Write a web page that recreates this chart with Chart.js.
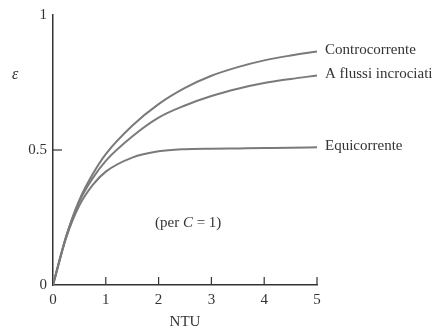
<!DOCTYPE html>
<html lang="it">
<head>
    <meta charset="UTF-8">
    <title>Efficienza - NTU</title>
    <script src="https://cdn.jsdelivr.net/npm/chart.js"></script>
    <style>
        html, body {
            margin: 0;
            padding: 0;
            background: #fff;
        }
        .chart-container {
            width: 443px;
            height: 331px;
            position: relative;
        }
    </style>
</head>
<body>
    <div class="chart-container">
        <canvas id="ntuChart"></canvas>
    </div>

    <script>
        // valori (C = 1)
        const ntu = [0, 0.25, 0.5, 0.75, 1, 1.5, 2, 2.5, 3, 3.5, 4, 4.5, 5];
        const controcorrente = [0, 0.18, 0.315, 0.41, 0.485, 0.59, 0.67, 0.73, 0.775, 0.807, 0.832, 0.85, 0.865];
        const flussiIncrociati = [0, 0.18, 0.31, 0.395, 0.46, 0.55, 0.62, 0.665, 0.70, 0.727, 0.748, 0.763, 0.776];
        const equicorrente = [0, 0.175, 0.295, 0.37, 0.42, 0.472, 0.495, 0.503, 0.505, 0.506, 0.507, 0.508, 0.51];
        const seriesNames = ['Controcorrente', 'A flussi incrociati', 'Equicorrente'];
        const xTicks = [0, 1, 2, 3, 4, 5];
        const yTicks = [0, 0.5, 1];

        const serif = '"Liberation Serif", "DejaVu Serif", serif';
        const inkColor = '#333333';
        const curveColor = '#7a7a7a';

        function toPoints(values) {
            return values.map((v, i) => ({ x: ntu[i], y: v }));
        }

        // tacche interne, etichette delle curve e scritte libere
        const annotations = {
            id: 'annotations',
            afterDraw(chart) {
                const ctx = chart.ctx;
                const xs = chart.scales.x;
                const ys = chart.scales.y;
                const area = chart.chartArea;

                ctx.save();
                ctx.strokeStyle = inkColor;
                ctx.lineWidth = 1.2;
                xTicks.slice(1).forEach(t => {
                    const px = xs.getPixelForValue(t);
                    ctx.beginPath();
                    ctx.moveTo(px, area.bottom);
                    ctx.lineTo(px, area.bottom - 8);
                    ctx.stroke();
                });
                const py = ys.getPixelForValue(0.5);
                ctx.beginPath();
                ctx.moveTo(area.left, py);
                ctx.lineTo(area.left + 9, py);
                ctx.stroke();

                ctx.fillStyle = inkColor;
                ctx.font = '15px ' + serif;
                ctx.textBaseline = 'middle';
                ctx.textAlign = 'left';
                chart.data.datasets.forEach((ds, i) => {
                    const last = ds.data[ds.data.length - 1];
                    ctx.fillText(seriesNames[i], xs.getPixelForValue(last.x) + 8, ys.getPixelForValue(last.y) - 1);
                });

                ctx.font = 'italic 16px ' + serif;
                ctx.fillText('ε', 12, 75);

                ctx.font = '15px ' + serif;
                const pre = '(per ';
                const post = ' = 1)';
                let x = 155;
                ctx.fillText(pre, x, 223);
                x += ctx.measureText(pre).width;
                ctx.font = 'italic 15px ' + serif;
                ctx.fillText('C', x, 223);
                x += ctx.measureText('C').width;
                ctx.font = '15px ' + serif;
                ctx.fillText(post, x, 223);
                ctx.restore();
            }
        };

        const series = [controcorrente, flussiIncrociati, equicorrente];

        new Chart(document.getElementById('ntuChart'), {
            type: 'line',
            data: {
                datasets: series.map((values, i) => ({
                    label: seriesNames[i],
                    data: toPoints(values),
                    borderColor: curveColor,
                    borderWidth: 2,
                    pointRadius: 0,
                    fill: false,
                    cubicInterpolationMode: 'monotone'
                }))
            },
            options: {
                responsive: true,
                maintainAspectRatio: false,
                animation: false,
                layout: {
                    padding: { left: 0, right: 126, top: 13, bottom: 0 }
                },
                plugins: {
                    legend: { display: false },
                    tooltip: { enabled: false }
                },
                scales: {
                    x: {
                        type: 'linear',
                        min: 0,
                        max: 5,
                        afterFit(scale) { scale.height = 46; },
                        afterBuildTicks(scale) { scale.ticks = xTicks.map(v => ({ value: v })); },
                        grid: { display: true, drawOnChartArea: false, drawTicks: false },
                        border: { display: true, color: inkColor, width: 1.5 },
                        ticks: {
                            color: inkColor,
                            padding: 6,
                            font: { family: serif, size: 15 }
                        },
                        title: {
                            display: true,
                            text: 'NTU',
                            color: inkColor,
                            padding: { top: 0, bottom: 0 },
                            font: { family: serif, size: 15 }
                        }
                    },
                    y: {
                        type: 'linear',
                        min: 0,
                        max: 1,
                        afterFit(scale) { scale.width = 53; },
                        afterBuildTicks(scale) { scale.ticks = yTicks.map(v => ({ value: v })); },
                        grid: { display: true, drawOnChartArea: false, drawTicks: false },
                        border: { display: true, color: inkColor, width: 1.5 },
                        ticks: {
                            color: inkColor,
                            padding: 6,
                            font: { family: serif, size: 15 },
                            callback: v => String(v)
                        }
                    }
                }
            },
            plugins: [annotations]
        });
    </script>
</body>
</html>
